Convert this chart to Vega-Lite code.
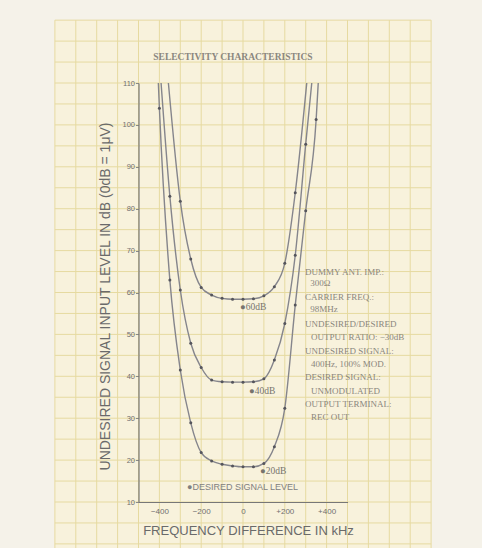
{
  "$schema": "https://vega.github.io/schema/vega-lite/v6.json",
  "width": 209,
  "height": 419,
  "autosize": {"type": "none"},
  "padding": {"left": 138.5, "top": 83, "right": 134.5, "bottom": 46},
  "background": "#f5f2e9",
  "config": {"view": {"stroke": null}},
  "datasets": {
    "one": [{}],
    "paper": [{"x1": -900, "x2": 900, "y1": -5, "y2": 125}],
    "gridx": [{"g": -900}, {"g": -800}, {"g": -700}, {"g": -600}, {"g": -500}, {"g": -400}, {"g": -300}, {"g": -200}, {"g": -100}, {"g": 0}, {"g": 100}, {"g": 200}, {"g": 300}, {"g": 400}, {"g": 500}, {"g": 600}, {"g": 700}, {"g": 800}, {"g": 900}],
    "gridy": [{"g": 0}, {"g": 5}, {"g": 10}, {"g": 15}, {"g": 20}, {"g": 25}, {"g": 30}, {"g": 35}, {"g": 40}, {"g": 45}, {"g": 50}, {"g": 55}, {"g": 60}, {"g": 65}, {"g": 70}, {"g": 75}, {"g": 80}, {"g": 85}, {"g": 90}, {"g": 95}, {"g": 100}, {"g": 105}, {"g": 110}, {"g": 115}, {"g": 120}, {"g": 125}],
    "curves": [
      {"curve": "60dB", "kHz": -357, "dB": 110, "pt": false},
      {"curve": "60dB", "kHz": -300, "dB": 81.8, "pt": true},
      {"curve": "60dB", "kHz": -250, "dB": 68.0, "pt": true},
      {"curve": "60dB", "kHz": -200, "dB": 61.2, "pt": true},
      {"curve": "60dB", "kHz": -150, "dB": 59.4, "pt": true},
      {"curve": "60dB", "kHz": -100, "dB": 58.6, "pt": true},
      {"curve": "60dB", "kHz": -50, "dB": 58.4, "pt": true},
      {"curve": "60dB", "kHz": 0, "dB": 58.4, "pt": true},
      {"curve": "60dB", "kHz": 50, "dB": 58.5, "pt": true},
      {"curve": "60dB", "kHz": 100, "dB": 59.2, "pt": true},
      {"curve": "60dB", "kHz": 150, "dB": 61.4, "pt": true},
      {"curve": "60dB", "kHz": 200, "dB": 67.0, "pt": true},
      {"curve": "60dB", "kHz": 250, "dB": 83.8, "pt": true},
      {"curve": "60dB", "kHz": 305, "dB": 110, "pt": false},
      {"curve": "40dB", "kHz": -392, "dB": 110, "pt": false},
      {"curve": "40dB", "kHz": -350, "dB": 83.0, "pt": true},
      {"curve": "40dB", "kHz": -300, "dB": 60.6, "pt": true},
      {"curve": "40dB", "kHz": -250, "dB": 47.9, "pt": true},
      {"curve": "40dB", "kHz": -200, "dB": 42.1, "pt": true},
      {"curve": "40dB", "kHz": -150, "dB": 39.1, "pt": true},
      {"curve": "40dB", "kHz": -100, "dB": 38.7, "pt": true},
      {"curve": "40dB", "kHz": -50, "dB": 38.6, "pt": true},
      {"curve": "40dB", "kHz": 0, "dB": 38.6, "pt": true},
      {"curve": "40dB", "kHz": 50, "dB": 38.7, "pt": true},
      {"curve": "40dB", "kHz": 100, "dB": 39.4, "pt": true},
      {"curve": "40dB", "kHz": 150, "dB": 43.9, "pt": true},
      {"curve": "40dB", "kHz": 200, "dB": 52.6, "pt": true},
      {"curve": "40dB", "kHz": 250, "dB": 68.9, "pt": true},
      {"curve": "40dB", "kHz": 300, "dB": 95.4, "pt": true},
      {"curve": "40dB", "kHz": 329, "dB": 110, "pt": false},
      {"curve": "20dB", "kHz": -405, "dB": 110, "pt": false},
      {"curve": "20dB", "kHz": -400, "dB": 104.0, "pt": true},
      {"curve": "20dB", "kHz": -350, "dB": 63.0, "pt": true},
      {"curve": "20dB", "kHz": -300, "dB": 41.5, "pt": true},
      {"curve": "20dB", "kHz": -250, "dB": 28.9, "pt": true},
      {"curve": "20dB", "kHz": -200, "dB": 21.8, "pt": true},
      {"curve": "20dB", "kHz": -150, "dB": 19.8, "pt": true},
      {"curve": "20dB", "kHz": -100, "dB": 19.0, "pt": true},
      {"curve": "20dB", "kHz": -50, "dB": 18.6, "pt": true},
      {"curve": "20dB", "kHz": 0, "dB": 18.4, "pt": true},
      {"curve": "20dB", "kHz": 50, "dB": 18.4, "pt": true},
      {"curve": "20dB", "kHz": 100, "dB": 19.2, "pt": true},
      {"curve": "20dB", "kHz": 150, "dB": 23.2, "pt": true},
      {"curve": "20dB", "kHz": 200, "dB": 32.4, "pt": true},
      {"curve": "20dB", "kHz": 250, "dB": 57.0, "pt": true},
      {"curve": "20dB", "kHz": 300, "dB": 79.5, "pt": true},
      {"curve": "20dB", "kHz": 350, "dB": 101.3, "pt": true},
      {"curve": "20dB", "kHz": 360, "dB": 110, "pt": false}
    ],
    "levels": [
      {"label": "●60dB", "kHz": -14, "dB": 56.5},
      {"label": "●40dB", "kHz": 29, "dB": 36.5},
      {"label": "●20dB", "kHz": 81, "dB": 17.4}
    ],
    "notes": [
      {"note": "DUMMY ANT. IMP.:", "kHz": 297, "dB": 65.0},
      {"note": "300Ω", "kHz": 322, "dB": 62.3},
      {"note": "CARRIER FREQ.:", "kHz": 297, "dB": 58.9},
      {"note": "98MHz", "kHz": 322, "dB": 56.1},
      {"note": "UNDESIRED/DESIRED", "kHz": 297, "dB": 52.5},
      {"note": "OUTPUT RATIO: −30dB", "kHz": 325, "dB": 49.4},
      {"note": "UNDESIRED SIGNAL:", "kHz": 297, "dB": 46.0},
      {"note": "400Hz, 100% MOD.", "kHz": 325, "dB": 42.9},
      {"note": "DESIRED SIGNAL:", "kHz": 297, "dB": 39.8},
      {"note": "UNMODULATED", "kHz": 325, "dB": 36.5},
      {"note": "OUTPUT TERMINAL:", "kHz": 297, "dB": 33.4},
      {"note": "REC OUT", "kHz": 325, "dB": 30.3}
    ]
  },
  "layer": [
    {
      "data": {"name": "paper"},
      "mark": {"type": "rect", "fill": "#f8f2dc"},
      "encoding": {
        "x": {
          "field": "x1", "type": "quantitative",
          "scale": {"domain": [-500, 500], "nice": false, "zero": false},
          "axis": {
            "values": [-400, -200, 0, 200, 400],
            "labelExpr": "datum.value > 0 ? '+' + datum.label : datum.label",
            "zindex": 1,
            "domain": true, "domainColor": "#777777", "domainWidth": 1.2,
            "grid": false, "ticks": false,
            "labelPadding": 5,
            "labelFont": "Liberation Sans", "labelFontSize": 8, "labelColor": "#707070",
            "title": "FREQUENCY DIFFERENCE IN kHz",
            "titleFont": "Liberation Sans", "titleFontSize": 13, "titleFontWeight": "normal", "titleColor": "#6a6a6a",
            "titleX": 109.5, "titleY": 28, "titleBaseline": "middle", "titleAlign": "center"
          }
        },
        "x2": {"field": "x2"},
        "y": {
          "field": "y1", "type": "quantitative",
          "scale": {"domain": [10, 110], "nice": false, "zero": false},
          "axis": {
            "values": [10, 20, 30, 40, 50, 60, 70, 80, 90, 100, 110],
            "zindex": 1,
            "domain": true, "domainColor": "#777777", "domainWidth": 1.2,
            "grid": false,
            "ticks": true, "tickSize": 3, "tickColor": "#8a8a8a",
            "labelPadding": 1,
            "labelFont": "Liberation Sans", "labelFontSize": 7.5, "labelColor": "#707070",
            "title": "UNDESIRED SIGNAL INPUT LEVEL IN dB (0dB = 1μV)",
            "titleFont": "Liberation Sans", "titleFontSize": 14, "titleFontWeight": "normal", "titleColor": "#6a6a6a",
            "titleX": -33.5, "titleY": 213, "titleBaseline": "middle", "titleAlign": "center", "titleAngle": -90
          }
        },
        "y2": {"field": "y2"}
      }
    },
    {
      "data": {"name": "gridx"},
      "mark": {"type": "rule", "stroke": "#e6daa0", "strokeWidth": 1},
      "encoding": {
        "x": {"field": "g", "type": "quantitative"},
        "y": {"datum": -5, "type": "quantitative"},
        "y2": {"datum": 125}
      }
    },
    {
      "data": {"name": "gridy"},
      "mark": {"type": "rule", "stroke": "#e6daa0", "strokeWidth": 1},
      "encoding": {
        "y": {"field": "g", "type": "quantitative"},
        "x": {"datum": -900, "type": "quantitative"},
        "x2": {"datum": 900}
      }
    },
    {
      "data": {"name": "curves"},
      "mark": {"type": "line", "interpolate": "monotone", "stroke": "#85858c", "strokeWidth": 1.4},
      "encoding": {
        "x": {"field": "kHz", "type": "quantitative"},
        "y": {"field": "dB", "type": "quantitative"},
        "detail": {"field": "curve"},
        "order": {"field": "kHz"}
      }
    },
    {
      "data": {"name": "curves"},
      "transform": [{"filter": "datum.pt"}],
      "mark": {"type": "circle", "color": "#55555c", "size": 9, "opacity": 1},
      "encoding": {
        "x": {"field": "kHz", "type": "quantitative"},
        "y": {"field": "dB", "type": "quantitative"}
      }
    },
    {
      "data": {"name": "levels"},
      "mark": {"type": "text", "align": "left", "baseline": "middle", "font": "Liberation Serif", "fontSize": 9.5, "color": "#77746e"},
      "encoding": {
        "x": {"field": "kHz", "type": "quantitative"},
        "y": {"field": "dB", "type": "quantitative"},
        "text": {"field": "label"}
      }
    },
    {
      "data": {"name": "notes"},
      "mark": {"type": "text", "align": "left", "baseline": "middle", "font": "Liberation Serif", "fontSize": 9, "color": "#8a867c"},
      "encoding": {
        "x": {"field": "kHz", "type": "quantitative"},
        "y": {"field": "dB", "type": "quantitative"},
        "text": {"field": "note"}
      }
    },
    {
      "data": {"name": "one"},
      "mark": {"type": "text", "align": "left", "baseline": "middle", "font": "Liberation Sans", "fontSize": 9, "color": "#808080", "text": "●DESIRED SIGNAL LEVEL"},
      "encoding": {
        "x": {"datum": -268, "type": "quantitative"},
        "y": {"datum": 13.6, "type": "quantitative"}
      }
    },
    {
      "data": {"name": "one"},
      "mark": {"type": "text", "align": "center", "baseline": "middle", "font": "Liberation Serif", "fontSize": 9.5, "fontWeight": "bold", "color": "#8b877f", "text": "SELECTIVITY CHARACTERISTICS"},
      "encoding": {
        "x": {"datum": -48, "type": "quantitative"},
        "y": {"datum": 116.2, "type": "quantitative"}
      }
    }
  ]
}
